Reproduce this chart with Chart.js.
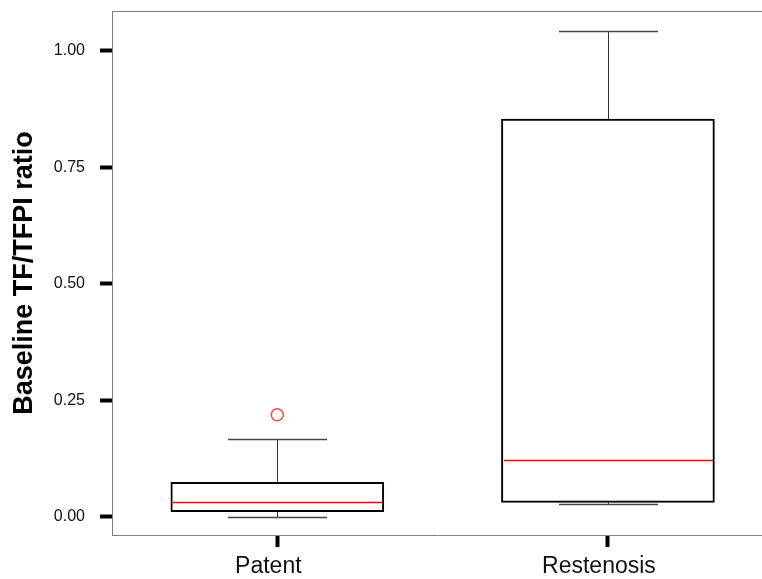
<!DOCTYPE html>
<html><head><meta charset="utf-8">
<script src="https://cdn.jsdelivr.net/npm/chart.js@4"></script>
<style>html,body{margin:0;padding:0;background:#fff}#wrap{width:762px;height:579px}</style>
</head><body><div id="wrap"><canvas id="c" width="762" height="579"></canvas></div>
<script>
const categories = ['Patent', 'Restenosis'];
const whiskerLow = [0.000, 0.027];
const q1 = [0.011, 0.031];
const median = [0.031, 0.121];
const q3 = [0.074, 0.853];
const whiskerHigh = [0.167, 1.043];
const outliers = [[0.219], []];
const yTicks = [0, 0.25, 0.5, 0.75, 1.0];
const yTitle = 'Baseline TF/TFPI ratio';

const FONT = "'Liberation Sans', Arial, sans-serif";
Chart.defaults.font.family = FONT;

const boxData = categories.map((c, i) => ({ x: i + 1, y: [q1[i], q3[i]] }));
const outlierData = [];
outliers.forEach((arr, i) => arr.forEach(v => outlierData.push({ x: i + 1, y: v })));

const BOX_W = 213, CAP_W = 99;

const boxParts = {
  id: 'boxParts',
  afterDatasetsDraw(chart) {
    const { ctx, scales: { x, y } } = chart;
    const r = v => Math.round(v) + 0.5;
    const line = (x1, y1, x2, y2) => { ctx.beginPath(); ctx.moveTo(x1, y1); ctx.lineTo(x2, y2); ctx.stroke(); };
    ctx.save();
    categories.forEach((c, i) => {
      const cx = r(x.getPixelForValue(i + 1));
      const pq1 = y.getPixelForValue(q1[i]);
      const pq3 = y.getPixelForValue(q3[i]);
      const pmin = r(y.getPixelForValue(whiskerLow[i]));
      const pmax = r(y.getPixelForValue(whiskerHigh[i]));
      const pmed = r(y.getPixelForValue(median[i]));
      ctx.strokeStyle = '#333'; ctx.lineWidth = 1;
      line(cx, pq3, cx, pmax);
      line(cx, pq1, cx, pmin);
      ctx.strokeStyle = '#444'; ctx.lineWidth = 1.5;
      line(cx - CAP_W / 2, pmax, cx + CAP_W / 2, pmax);
      line(cx - CAP_W / 2, pmin, cx + CAP_W / 2, pmin);
      ctx.strokeStyle = '#ff0000'; ctx.lineWidth = 1.5;
      line(cx - BOX_W / 2 + 2, pmed, cx + BOX_W / 2 - 2, pmed);
    });
    ctx.restore();
  },
  afterDraw(chart) {
    const { ctx, chartArea } = chart;
    ctx.save();
    ctx.strokeStyle = '#808080'; ctx.lineWidth = 1;
    ctx.beginPath();
    ctx.moveTo(chartArea.left, Math.round(chartArea.top) + 0.5);
    ctx.lineTo(chartArea.right, Math.round(chartArea.top) + 0.5);
    ctx.stroke();
    ctx.restore();
  }
};

new Chart(document.getElementById('c'), {
  type: 'bar',
  data: {
    datasets: [
      {
        type: 'bar', data: boxData, backgroundColor: '#ffffff', borderColor: '#000000',
        borderWidth: 2, borderSkipped: false, barThickness: BOX_W, grouped: false, order: 2
      },
      {
        type: 'scatter', data: outlierData, pointStyle: 'circle', pointRadius: 6,
        borderColor: '#f04848', backgroundColor: 'rgba(0,0,0,0)', borderWidth: 1.5, showLine: false, order: 1
      }
    ]
  },
  options: {
    responsive: false, animation: false, events: [],
    layout: { autoPadding: false, padding: { top: 11, left: 0, right: 0, bottom: 0 } },
    plugins: { legend: { display: false }, tooltip: { enabled: false } },
    scales: {
      x: {
        type: 'linear', min: 0.5, max: 2.466, offset: false,
        afterBuildTicks(s) { s.ticks = categories.map((c, i) => ({ value: i + 1 })); },
        grid: { offset: false, drawOnChartArea: false, drawTicks: true, tickLength: 12, tickWidth: 4, tickColor: '#000' },
        border: { display: true, color: '#808080', width: 1 },
        ticks: {
          callback: v => categories[Math.round(v) - 1] ?? '',
          font: { family: FONT, size: 23 }, color: '#111', padding: 6, labelOffset: -9,
          maxRotation: 0, autoSkip: false
        },
        afterFit(s) { s.height = 44; s.paddingLeft = 0; s.paddingRight = 0; }
      },
      y: {
        type: 'linear', min: -0.039, max: 1.085, beginAtZero: false,
        afterBuildTicks(s) { s.ticks = yTicks.map(v => ({ value: v })); },
        grid: { drawOnChartArea: false, drawTicks: true, tickLength: 12, tickWidth: 4, tickColor: '#000' },
        border: { display: true, color: '#808080', width: 1 },
        ticks: { callback: v => Number(v).toFixed(2), font: { family: FONT, size: 16 }, color: '#111', padding: 15 },
        title: {
          display: true, text: yTitle, color: '#000',
          font: { family: FONT, size: 27, weight: 'bold', lineHeight: 1.2 },
          padding: { top: 8, bottom: 0 }
        },
        afterFit(s) { s.width = 112; s.paddingTop = 0; s.paddingBottom = 0; }
      }
    }
  },
  plugins: [boxParts]
});
</script>
</body></html>
